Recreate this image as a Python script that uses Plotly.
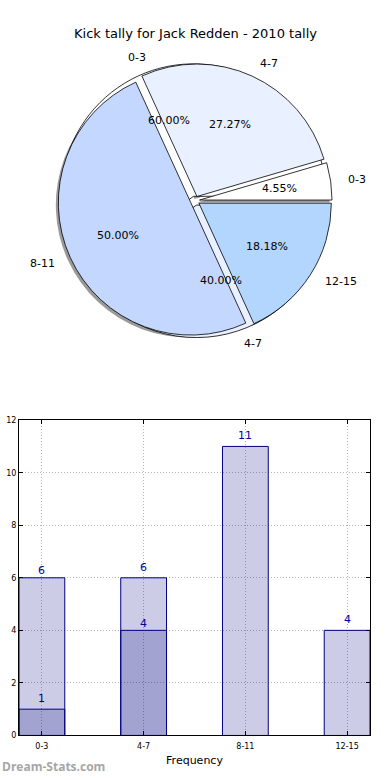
import math
import plotly.graph_objects as go

# ---------------- data ----------------
title = "Kick tally for Jack Redden - 2010 tally"
categories = ["0-3", "4-7", "8-11", "12-15"]
tally = [1, 6, 11, 4]                 # main series (outer pie, bars)
sub_categories = ["0-3", "4-7"]
sub_tally = [6, 4]                    # second series (under pie, bars)
pie_colors = ["#ffffff", "#e9f0ff", "#c4d8ff", "#b3d6ff"]
sub_pie_colors = ["#ffffff", "#e9f0ff"]
y_ticks = [0, 2, 4, 6, 8, 10, 12]

W, H = 390, 780

# ---------------- pie geometry ----------------
cx_px, cy_px = 195.0, 199.0
r_px = 134.0
pull = 0.035
half = r_px * (1 + pull)


def dom(cx, cy, h):
    return dict(x=[(cx - h) / W, (cx + h) / W], y=[1 - (cy + h) / H, 1 - (cy - h) / H])


def start_rotation(values):
    # first wedge starts at 3 o'clock and runs counterclockwise
    return 90 - 360.0 * values[0] / sum(values)


fig = go.Figure()

# shadow
fig.add_trace(go.Pie(
    values=tally, labels=categories, sort=False, direction="counterclockwise",
    rotation=start_rotation(tally),
    pull=[pull] * len(tally), textinfo="none", hoverinfo="skip", showlegend=False,
    marker=dict(colors=["#9a9a9a"] * len(tally), line=dict(width=0)),
    domain=dom(cx_px - 2.5, cy_px + 2.5, half),
))
# underlying second pie
fig.add_trace(go.Pie(
    values=sub_tally, labels=sub_categories, sort=False, direction="counterclockwise",
    rotation=start_rotation(sub_tally),
    pull=[pull] * len(sub_tally), textinfo="none", hoverinfo="skip", showlegend=False,
    marker=dict(colors=sub_pie_colors, line=dict(color="black", width=0.8)),
    domain=dom(cx_px, cy_px, half),
))
# main pie
fig.add_trace(go.Pie(
    values=tally, labels=categories, sort=False, direction="counterclockwise",
    rotation=start_rotation(tally),
    pull=[pull] * len(tally), textinfo="none", hoverinfo="skip", showlegend=False,
    marker=dict(colors=pie_colors, line=dict(color="black", width=0.8)),
    domain=dom(cx_px, cy_px, half),
))

annotations = []


def pie_text(values, labels):
    total = float(sum(values))
    cum = 0.0
    for v, lab in zip(values, labels):
        th = 2 * math.pi * (cum + v / 2.0) / total
        cum += v
        c, s = math.cos(th), math.sin(th)
        rl = (pull + 1.1) * r_px
        rp = (pull + 0.6) * r_px
        annotations.append(dict(
            x=(cx_px + rl * c) / W, y=1 - (cy_px - rl * s) / H, xref="paper", yref="paper",
            text=lab, showarrow=False, xanchor="left" if c > 0 else "right", yanchor="middle",
            font=dict(family="DejaVu Sans", size=11, color="black")))
        annotations.append(dict(
            x=(cx_px + rp * c) / W, y=1 - (cy_px - rp * s) / H, xref="paper", yref="paper",
            text="%.2f%%" % (100.0 * v / total), showarrow=False, xanchor="center", yanchor="middle",
            font=dict(family="DejaVu Sans", size=11, color="black")))


pie_text(sub_tally, sub_categories)
pie_text(tally, categories)

# ---------------- bars ----------------
bar_fill = "rgba(0,0,128,0.2)"
bar_line = "#000080"
label_color = "#0000a0"

fig.add_trace(go.Bar(
    x=categories, y=tally, width=0.45, marker=dict(color=bar_fill, line=dict(color=bar_line, width=1)),
    hoverinfo="skip", showlegend=False, xaxis="x", yaxis="y"))
fig.add_trace(go.Bar(
    x=sub_categories, y=sub_tally, width=0.45, marker=dict(color=bar_fill, line=dict(color=bar_line, width=1)),
    hoverinfo="skip", showlegend=False, xaxis="x", yaxis="y"))

for cats, vals, shift in ((categories, tally, 2), (sub_categories, sub_tally, -1.5)):
    for c, v in zip(cats, vals):
        annotations.append(dict(x=c, y=v, xref="x", yref="y", text=str(v), showarrow=False,
                                xanchor="center", yanchor="bottom", yshift=shift,
                                font=dict(family="DejaVu Sans", size=11, color=label_color)))

annotations.append(dict(x=0.5, y=1 - 30 / H, xref="paper", yref="paper", text=title, showarrow=False,
                        xanchor="center", yanchor="middle",
                        font=dict(family="DejaVu Sans", size=13, color="black")))
annotations.append(dict(x=0.0, y=1 - 771 / H, xref="paper", yref="paper", text="Dream-Stats.com",
                        showarrow=False, xanchor="left", yanchor="middle",
                        font=dict(family="Open Sans", size=12, color="#a6a6a6", weight=700)))

axis_common = dict(showline=True, linecolor="black", linewidth=1, mirror="ticks", ticks="inside",
                   ticklen=4, tickcolor="black", showgrid=True, gridcolor="#b4b4b4", griddash="1px,2px",
                   gridwidth=1, zeroline=False, tickfont=dict(family="DejaVu Sans", size=8, color="black"))

fig.update_layout(
    width=W, height=H, margin=dict(l=0, r=0, t=0, b=0),
    paper_bgcolor="white", plot_bgcolor="white", barmode="overlay",
    xaxis=dict(domain=[19 / W, 370 / W], range=[-0.225, 3.225], type="category",
               categoryorder="array", categoryarray=categories, ticklabelstandoff=3,
               title=dict(text="Frequency", font=dict(family="DejaVu Sans", size=11, color="black"), standoff=6),
               **axis_common),
    yaxis=dict(domain=[1 - 740 / H, 1 - 421 / H], range=[0, 12], tickvals=y_ticks, **axis_common),
    annotations=annotations,
)

fig.write_html("out.html", config={"displayModeBar": False},
               post_script="document.body.style.margin='0';document.body.style.padding='0';")
